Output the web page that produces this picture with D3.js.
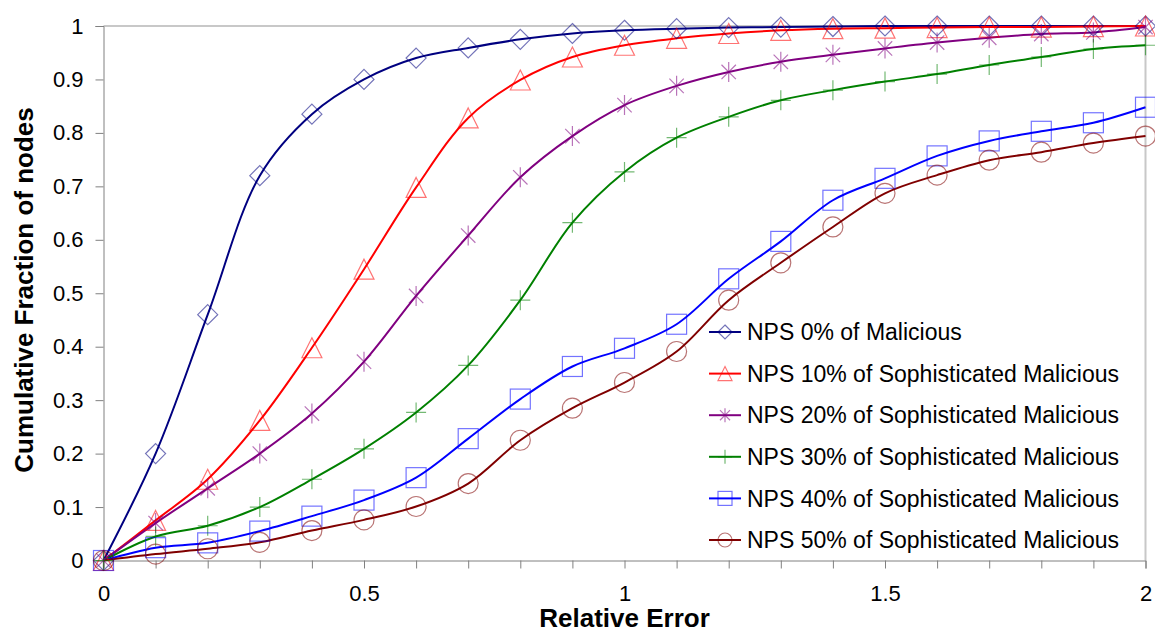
<!DOCTYPE html>
<html>
<head>
<meta charset="utf-8">
<script src="https://cdn.jsdelivr.net/npm/d3@7"></script>
<style>
  body { margin: 0; background: #fff; }
  svg { font-family: "Liberation Sans", Arial, sans-serif; }
</style>
</head>
<body>
<svg id="chart" width="1155" height="630"></svg>
<script>
// relative error sample points
var xs = [0, 0.1, 0.2, 0.3, 0.4, 0.5, 0.6, 0.7, 0.8, 0.9, 1.0, 1.1, 1.2, 1.3, 1.4, 1.5, 1.6, 1.7, 1.8, 1.9, 2.0];

var nps0  = [0, 0.20, 0.46, 0.72, 0.835, 0.90, 0.94, 0.959, 0.975, 0.986, 0.992, 0.995, 0.997, 0.998, 0.999, 1.0, 1.0, 1.0, 1.0, 1.0, 1.0];
var nps10 = [0, 0.075, 0.152, 0.262, 0.398, 0.545, 0.698, 0.828, 0.899, 0.942, 0.964, 0.977, 0.986, 0.992, 0.995, 0.996, 0.997, 0.998, 0.998, 0.999, 1.0];
var nps20 = [0, 0.07, 0.135, 0.2, 0.275, 0.372, 0.495, 0.608, 0.717, 0.794, 0.852, 0.888, 0.914, 0.933, 0.946, 0.958, 0.969, 0.978, 0.985, 0.988, 0.998];
var nps30 = [0, 0.045, 0.065, 0.1, 0.152, 0.209, 0.277, 0.365, 0.487, 0.632, 0.727, 0.791, 0.83, 0.861, 0.88, 0.896, 0.91, 0.927, 0.942, 0.957, 0.964];
var nps40 = [0, 0.024, 0.033, 0.055, 0.083, 0.113, 0.155, 0.228, 0.302, 0.363, 0.397, 0.442, 0.527, 0.597, 0.674, 0.715, 0.757, 0.785, 0.803, 0.819, 0.848];
var nps50 = [0, 0.012, 0.022, 0.034, 0.056, 0.076, 0.101, 0.144, 0.225, 0.285, 0.333, 0.391, 0.487, 0.557, 0.624, 0.687, 0.721, 0.749, 0.764, 0.781, 0.794];

var seriesNames = [
  "NPS 0% of Malicious",
  "NPS 10% of Sophisticated Malicious",
  "NPS 20% of Sophisticated Malicious",
  "NPS 30% of Sophisticated Malicious",
  "NPS 40% of Sophisticated Malicious",
  "NPS 50% of Sophisticated Malicious"
];
var seriesValues = [nps0, nps10, nps20, nps30, nps40, nps50];
var seriesColors = ["#000080", "#ff0000", "#800080", "#008000", "#0000ff", "#800000"];
var seriesMarkers = ["diamond", "triangle", "star", "plus", "square", "circle"];

var yTicks = [0, 0.1, 0.2, 0.3, 0.4, 0.5, 0.6, 0.7, 0.8, 0.9, 1];
var xLabels = [0, 0.5, 1, 1.5, 2];

var svg = d3.select("#chart");
var plotLeft = 103.5, plotRight = 1145.5, plotTop = 26, plotBottom = 560.5;

var x = d3.scaleLinear().domain([0, 2]).range([plotLeft, plotRight]);
var y = d3.scaleLinear().domain([0, 1]).range([plotBottom, plotTop]);

// plot area border (light grey top/right)
svg.append("line").attr("x1", plotLeft).attr("x2", plotRight).attr("y1", plotTop).attr("y2", plotTop)
  .style("stroke", "#c8c8c8").style("stroke-width", 2);
svg.append("line").attr("x1", plotRight).attr("x2", plotRight).attr("y1", plotTop).attr("y2", plotBottom)
  .style("stroke", "#c8c8c8").style("stroke-width", 2);

// y axis
var yAxis = svg.append("g").attr("transform", "translate(" + plotLeft + ",0)")
  .call(d3.axisLeft(y).tickValues(yTicks).tickSize(8).tickPadding(12)
    .tickFormat(function(d){ return d === 0 || d === 1 ? d : d3.format(".1f")(d); }));
yAxis.selectAll("path, line").style("stroke", "#808080");
yAxis.selectAll("text").style("font-size", "22px").style("fill", "#000")
  .style("font-family", "'Liberation Sans', Arial, sans-serif");

// x axis: ticks every 0.1, labels every 0.5
var xAxis = svg.append("g").attr("transform", "translate(0," + plotBottom + ")")
  .call(d3.axisBottom(x).tickValues(xs).tickSize(8).tickPadding(17)
    .tickFormat(function(d){
      var hit = xLabels.some(function(l){ return Math.abs(l - d) < 1e-9; });
      return hit ? String(+d.toFixed(1)) : "";
    }));
xAxis.selectAll("path, line").style("stroke", "#808080");
xAxis.selectAll("text").style("font-size", "22px").style("fill", "#000")
  .style("font-family", "'Liberation Sans', Arial, sans-serif");

// axis titles
svg.append("text").attr("x", (plotLeft + plotRight) / 2).attr("y", 627)
  .attr("text-anchor", "middle").style("font-size", "26px").style("font-weight", "bold")
  .text("Relative Error");
svg.append("text").attr("transform", "translate(33,290) rotate(-90)")
  .attr("text-anchor", "middle").style("font-size", "26px").style("font-weight", "bold")
  .text("Cumulative Fraction of nodes");

function drawMarker(g, type, cx, cy, r, color) {
  var m;
  if (type === "diamond") {
    m = g.append("path").attr("d", "M" + cx + "," + (cy - r) + "L" + (cx + r) + "," + cy +
      "L" + cx + "," + (cy + r) + "L" + (cx - r) + "," + cy + "Z");
  } else if (type === "triangle") {
    m = g.append("path").attr("d", "M" + cx + "," + (cy - r) + "L" + (cx + r) + "," + (cy + r) +
      "L" + (cx - r) + "," + (cy + r) + "Z");
  } else if (type === "square") {
    m = g.append("rect").attr("x", cx - r).attr("y", cy - r).attr("width", 2 * r).attr("height", 2 * r);
  } else if (type === "circle") {
    m = g.append("circle").attr("cx", cx).attr("cy", cy).attr("r", r);
  } else if (type === "plus") {
    m = g.append("path").attr("d", "M" + cx + "," + (cy - r) + "V" + (cy + r) +
      "M" + (cx - r) + "," + cy + "H" + (cx + r));
  } else if (type === "star") {
    var d = r * 0.72;
    m = g.append("path").attr("d", "M" + cx + "," + (cy - r) + "V" + (cy + r) +
      "M" + (cx - d) + "," + (cy - d) + "L" + (cx + d) + "," + (cy + d) +
      "M" + (cx - d) + "," + (cy + d) + "L" + (cx + d) + "," + (cy - d));
  }
  m.style("fill", "none").style("stroke", color).style("stroke-width", 1.2).style("stroke-opacity", 0.55);
}

var line = d3.line()
  .x(function(d, i){ return x(xs[i]); })
  .y(function(d){ return y(d); })
  .curve(d3.curveCatmullRom.alpha(0.5));

var plot = svg.append("g");
seriesValues.forEach(function(vals, s){
  plot.append("path").datum(vals).attr("d", line)
    .style("fill", "none").style("stroke", seriesColors[s]).style("stroke-width", 2);
});
seriesValues.forEach(function(vals, s){
  var g = plot.append("g");
  vals.forEach(function(v, i){
    drawMarker(g, seriesMarkers[s], x(xs[i]), y(v), 10, seriesColors[s]);
  });
});

// legend
var legend = svg.append("g");
var legendTop = 332, legendStep = 41.6;
seriesNames.forEach(function(name, s){
  var ly = legendTop + s * legendStep;
  legend.append("line").attr("x1", 709).attr("x2", 741).attr("y1", ly).attr("y2", ly)
    .style("stroke", seriesColors[s]).style("stroke-width", 2);
  drawMarker(legend, seriesMarkers[s], 725, ly, 7, seriesColors[s]);
  legend.append("text").attr("x", 747).attr("y", ly).attr("dy", "0.36em")
    .style("font-size", "23px").text(name);
});
</script>
</body>
</html>
